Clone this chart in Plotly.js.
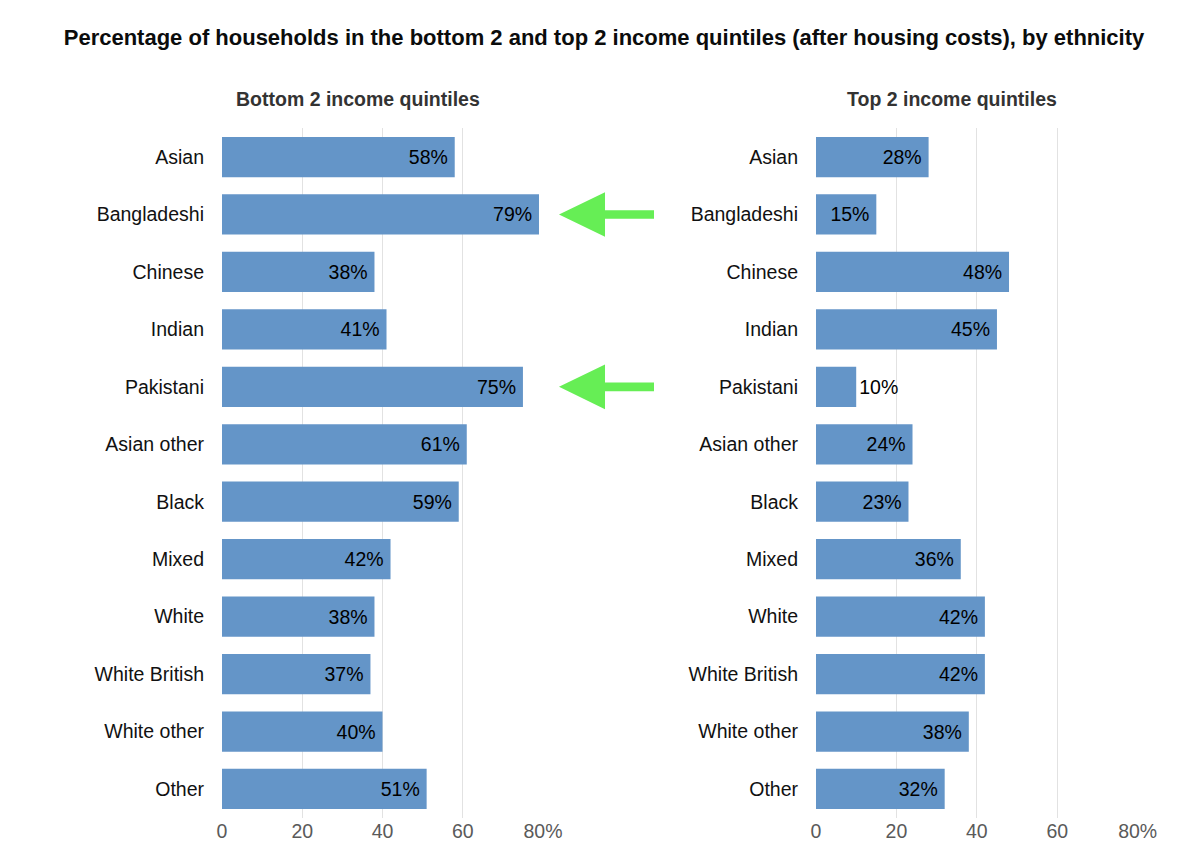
<!DOCTYPE html>
<html>
<head>
<meta charset="utf-8">
<script src="https://cdn.plot.ly/plotly-3.0.1.min.js"></script>
<style>html,body{margin:0;padding:0;background:#fff;}#chart{width:1200px;height:855px;}</style>
</head>
<body>
<div id="chart"></div>
<script>
const categories = ['Asian','Bangladeshi','Chinese','Indian','Pakistani','Asian other','Black','Mixed','White','White British','White other','Other'];
const bottom2 = [58,79,38,41,75,61,59,42,38,37,40,51];
const top2 = [28,15,48,45,10,24,23,36,42,42,38,32];
const tickVals = [0,20,40,60,80];
const tickText = ['0','20','40','60','80%'];
const highlighted = ['Bangladeshi','Pakistani'];

const W = 1200, H = 855;
const barColor = '#6495C8';
const font = 'Liberation Sans, Arial, sans-serif';

// plot geometry (pixels)
const yTopPx = 128.3, yBotPx = 817.7;
const leftX0 = 222, leftX1 = 543;
const rightX0 = 816, rightX1 = 1137.7;

function textPos(vals){ return vals.map(v => v < 12 ? 'outside' : 'inside'); }

const common = {
  type: 'bar', orientation: 'h', y: categories,
  marker: {color: barColor},
  width: 0.7,
  texttemplate: '%{x}%\u2009',
  textfont: {family: font, size: 19.5, color: '#000'},
  insidetextfont: {family: font, size: 19.5, color: '#000'},
  outsidetextfont: {family: font, size: 19.5, color: '#000'},
  insidetextanchor: 'end',
  textangle: 0,
  constraintext: 'none',
  cliponaxis: false,
  hoverinfo: 'none'
};

const traces = [
  Object.assign({}, common, {x: bottom2, xaxis: 'x', yaxis: 'y', textposition: textPos(bottom2)}),
  Object.assign({}, common, {x: top2, xaxis: 'x2', yaxis: 'y2', textposition: textPos(top2)})
];

const xAxisBase = {
  range: [0, 80], tickvals: tickVals, ticktext: tickText,
  showgrid: true, gridcolor: '#e2e2e2', gridwidth: 1,
  zeroline: false, showline: false, ticks: '',
  tickfont: {family: font, size: 19.5, color: '#5a5a5a'},
  fixedrange: true
};
const yAxisBase = {
  type: 'category', autorange: 'reversed',
  domain: [1 - yBotPx / H, 1 - yTopPx / H],
  showgrid: false, zeroline: false, showline: false, ticks: '',
  ticklabelstandoff: 17,
  tickfont: {family: font, size: 19.5, color: '#111'},
  fixedrange: true
};

// arrows pointing at highlighted categories (decoration, placed in paper coords)
const band = (yBotPx - yTopPx) / categories.length;
const shapes = highlighted.map(cat => {
  const i = categories.indexOf(cat);
  const cy = yTopPx + (i + 0.5) * band;
  const tip = 559, base = 605, end = 654, hh = 22.3, sh = 4.3;
  const pts = [[tip, cy],[base, cy - hh],[base, cy - sh],[end, cy - sh],[end, cy + sh],[base, cy + sh],[base, cy + hh]];
  const path = 'M' + pts.map(p => (p[0]/W).toFixed(5) + ',' + (1 - p[1]/H).toFixed(5)).join(' L') + ' Z';
  return {type: 'path', xref: 'paper', yref: 'paper', path: path, fillcolor: '#66EE55', line: {width: 0}, layer: 'above'};
});

const layout = {
  width: W, height: H,
  margin: {l: 0, r: 0, t: 0, b: 0},
  paper_bgcolor: '#fff', plot_bgcolor: '#fff',
  showlegend: false,
  title: {text: '<b>Percentage of households in the bottom 2 and top 2 income quintiles (after housing costs), by ethnicity</b>',
          x: 604/W, xanchor: 'center', y: 1 - 37/H, yanchor: 'middle',
          font: {family: font, size: 22, color: '#0b0c0c'}},
  xaxis: Object.assign({}, xAxisBase, {domain: [leftX0 / W, leftX1 / W], anchor: 'y'}),
  yaxis: Object.assign({}, yAxisBase, {anchor: 'x'}),
  xaxis2: Object.assign({}, xAxisBase, {domain: [rightX0 / W, rightX1 / W], anchor: 'y2'}),
  yaxis2: Object.assign({}, yAxisBase, {anchor: 'x2'}),
  annotations: [
    {text: '<b>Bottom 2 income quintiles</b>', xref: 'paper', yref: 'paper', x: 358/W, y: 1 - 99/H,
     xanchor: 'center', yanchor: 'middle', showarrow: false, font: {family: font, size: 19.5, color: '#333'}},
    {text: '<b>Top 2 income quintiles</b>', xref: 'paper', yref: 'paper', x: 952/W, y: 1 - 99/H,
     xanchor: 'center', yanchor: 'middle', showarrow: false, font: {family: font, size: 19.5, color: '#333'}}
  ],
  shapes: shapes
};

Plotly.newPlot('chart', traces, layout, {displayModeBar: false, staticPlot: true});
</script>
</body>
</html>
